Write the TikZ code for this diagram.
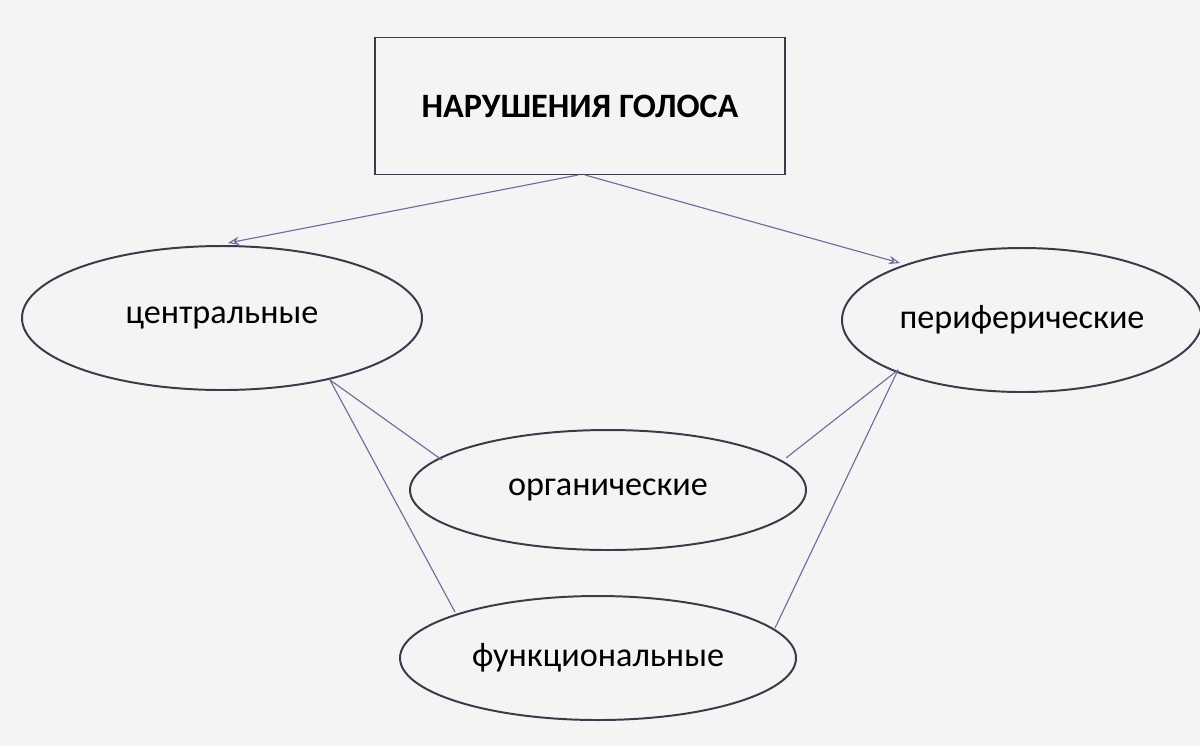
\documentclass[tikz,border=0pt]{standalone}
\usepackage{fontspec}
\setmainfont{Carlito}
\usetikzlibrary{shapes.geometric,arrows.meta}
\definecolor{bg}{HTML}{F4F4F4}
\definecolor{ln}{HTML}{6A6E9A}
\definecolor{ed}{HTML}{3A3A4A}
\begin{document}
\begin{tikzpicture}[x=0.025cm,y=-0.025cm,
  ov/.style={ellipse,draw=ed,line width=1.4pt,fill=bg,inner sep=0pt,font=\fontsize{24.3}{28}\selectfont},
  con/.style={draw=ln,line width=0.8pt},
  arr/.style={con,-{Stealth[length=8pt,width=6pt,open]}}]
\fill[bg] (0,0) rectangle (1200,746);
\useasboundingbox (0,0) rectangle (1200,746);
\node[draw=ed,line width=1.4pt,minimum width=410*0.025cm,minimum height=137*0.025cm,font=\bfseries\fontsize{24.3}{28}\selectfont] (t) at (580,106) {НАРУШЕНИЯ ГОЛОСА};
\node[ov,minimum width=400*0.025cm,minimum height=144*0.025cm] (c) at (222,318) {центральные};
\node[ov,minimum width=360*0.025cm,minimum height=144*0.025cm] (p) at (1022,320) {периферические};
\node[ov,minimum width=396*0.025cm,minimum height=120*0.025cm] (o) at (608,490) {органические};
\node[ov,minimum width=396*0.025cm,minimum height=124*0.025cm] (f) at (598,658) {функциональные};
\coordinate (ta) at (578,175);
\coordinate (tb) at (585,175);
\coordinate (ca) at (228,243);
\coordinate (pa) at (900,263);
\coordinate (cb) at (330,380);
\coordinate (pb) at (898,370);
\coordinate (oa) at (442,460);
\coordinate (ob) at (786,458);
\coordinate (fa) at (455,612);
\coordinate (fb) at (775,628);
\draw[arr] (ta) -- (ca);
\draw[arr] (tb) -- (pa);
\draw[con] (cb) -- (oa);
\draw[con] (cb) -- (fa);
\draw[con] (pb) -- (ob);
\draw[con] (pb) -- (fb);
\end{tikzpicture}
\end{document}
